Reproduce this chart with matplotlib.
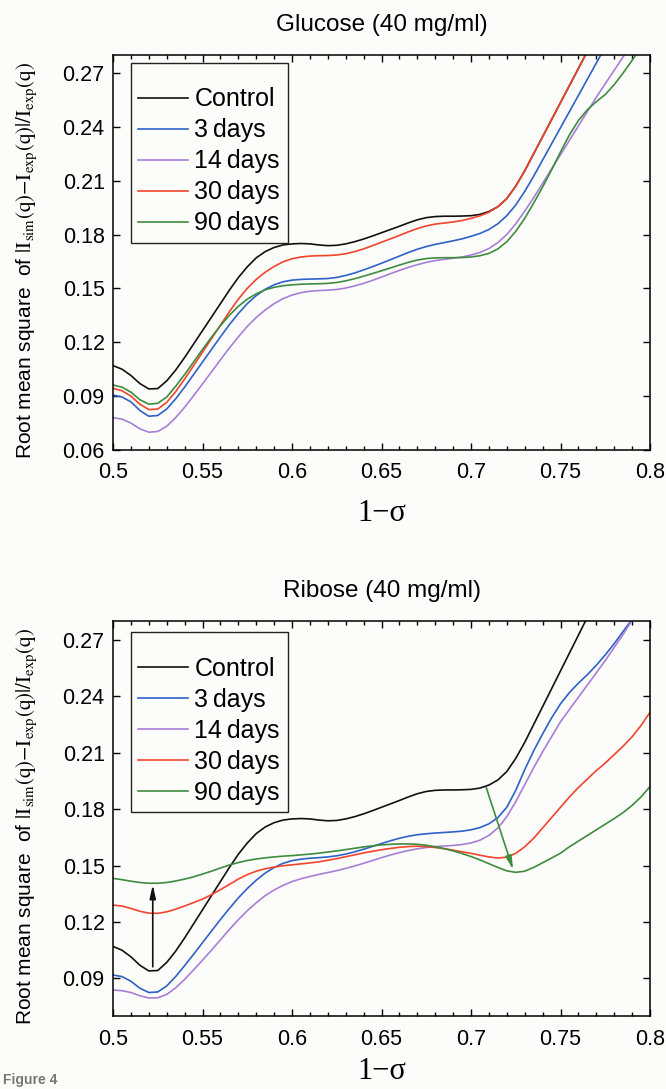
import matplotlib
matplotlib.use("Agg")
import matplotlib.pyplot as plt
import numpy as np
from matplotlib.ticker import FuncFormatter, MultipleLocator

# 1 - sigma sample positions (0.005 step)
one_minus_sigma = np.linspace(0.5, 0.8, 61)

# shared control curve (same in both panels)
control = [
    0.1070, 0.1050, 0.1015, 0.0970, 0.0940, 0.0942, 0.0985, 0.1045, 0.1115, 0.1190,
    0.1265, 0.1340, 0.1415, 0.1490, 0.1560, 0.1620, 0.1670, 0.1705, 0.1728, 0.1742,
    0.1748, 0.1750, 0.1748, 0.1742, 0.1738, 0.1740, 0.1748, 0.1760, 0.1775, 0.1792,
    0.1810, 0.1828, 0.1846, 0.1865, 0.1882, 0.1894, 0.1900, 0.1902, 0.1902, 0.1903,
    0.1905, 0.1912, 0.1928, 0.1955, 0.2000, 0.2070, 0.2155, 0.2250, 0.2345, 0.2440,
    0.2535, 0.2630, 0.2725, 0.2820, 0.2915, 0.3010, 0.3105, 0.3200, 0.3295, 0.3390,
    0.3485,
]

# Glucose (40 mg/ml)
glu_3d = [
    0.0906, 0.0895, 0.0868, 0.0820, 0.0788, 0.0792, 0.0828, 0.0885, 0.0950, 0.1020,
    0.1090, 0.1160, 0.1230, 0.1298, 0.1360, 0.1415, 0.1460, 0.1495, 0.1520, 0.1537,
    0.1546, 0.1550, 0.1552, 0.1553, 0.1555, 0.1561, 0.1572, 0.1586, 0.1603, 0.1621,
    0.1640, 0.1660, 0.1680, 0.1700, 0.1718, 0.1733, 0.1745, 0.1755, 0.1765, 0.1776,
    0.1790, 0.1806, 0.1828, 0.1860, 0.1905, 0.1965, 0.2040, 0.2125, 0.2215, 0.2305,
    0.2395, 0.2485, 0.2575, 0.2665, 0.2755, 0.2845, 0.2935, 0.3025, 0.3115, 0.3205,
    0.3295,
]
glu_14d = [
    0.0780, 0.0772, 0.0750, 0.0718, 0.0699, 0.0703, 0.0732, 0.0780, 0.0838, 0.0902,
    0.0968, 0.1035, 0.1102, 0.1168, 0.1230, 0.1288, 0.1338, 0.1380, 0.1415, 0.1443,
    0.1463, 0.1476, 0.1484, 0.1488, 0.1490, 0.1494, 0.1502, 0.1514, 0.1528, 0.1545,
    0.1563, 0.1582, 0.1600, 0.1617, 0.1632, 0.1645, 0.1655, 0.1662, 0.1668, 0.1675,
    0.1686, 0.1700, 0.1722, 0.1755, 0.1800, 0.1860, 0.1930, 0.2005, 0.2085, 0.2165,
    0.2245, 0.2325, 0.2405, 0.2485, 0.2565, 0.2640, 0.2715, 0.2790, 0.2865, 0.2940,
    0.3015,
]
glu_30d = [
    0.0943, 0.0930, 0.0900, 0.0855, 0.0825, 0.0828, 0.0865, 0.0925, 0.0995, 0.1070,
    0.1145, 0.1220, 0.1295, 0.1370, 0.1440, 0.1500, 0.1550, 0.1590, 0.1622, 0.1648,
    0.1665, 0.1675, 0.1680, 0.1682, 0.1683, 0.1686, 0.1693, 0.1705, 0.1720, 0.1738,
    0.1757, 0.1776, 0.1795, 0.1815, 0.1833, 0.1848, 0.1858, 0.1864, 0.1870, 0.1878,
    0.1890, 0.1904, 0.1924, 0.1955, 0.2000, 0.2070, 0.2155, 0.2250, 0.2345, 0.2440,
    0.2535, 0.2630, 0.2725, 0.2820, 0.2915, 0.3010, 0.3105, 0.3200, 0.3295, 0.3390,
    0.3485,
]
glu_90d = [
    0.0962, 0.0950, 0.0922, 0.0880, 0.0855, 0.0860, 0.0895, 0.0955, 0.1020, 0.1090,
    0.1160, 0.1228, 0.1292, 0.1350, 0.1400, 0.1440, 0.1470, 0.1492, 0.1506, 0.1515,
    0.1520, 0.1523, 0.1525, 0.1526, 0.1528, 0.1533, 0.1542, 0.1554, 0.1568, 0.1583,
    0.1598, 0.1614, 0.1630, 0.1645, 0.1658, 0.1666, 0.1670, 0.1671, 0.1671, 0.1672,
    0.1675, 0.1682, 0.1695, 0.1720, 0.1760, 0.1818, 0.1890, 0.1975, 0.2065, 0.2160,
    0.2260, 0.2355, 0.2435, 0.2495, 0.2540, 0.2580, 0.2635, 0.2700, 0.2770, 0.2845,
    0.2925,
]

# Ribose (40 mg/ml)
rib_3d = [
    0.0918, 0.0910, 0.0885, 0.0848, 0.0825, 0.0828, 0.0860, 0.0910, 0.0968, 0.1028,
    0.1090, 0.1152, 0.1213, 0.1272, 0.1328, 0.1378, 0.1422, 0.1460, 0.1490, 0.1512,
    0.1526, 0.1534, 0.1539, 0.1542, 0.1546, 0.1552, 0.1561, 0.1573, 0.1587, 0.1602,
    0.1617, 0.1632, 0.1645, 0.1656, 0.1664, 0.1669, 0.1673, 0.1676, 0.1679, 0.1683,
    0.1690, 0.1702, 0.1722, 0.1755, 0.1810, 0.1900, 0.2010, 0.2110, 0.2200, 0.2285,
    0.2360, 0.2420, 0.2470, 0.2515, 0.2565, 0.2620, 0.2680, 0.2745, 0.2810, 0.2880,
    0.2950,
]
rib_14d = [
    0.0838, 0.0835, 0.0825, 0.0808, 0.0796, 0.0797, 0.0815, 0.0850, 0.0895, 0.0945,
    0.0997, 0.1050, 0.1105, 0.1160, 0.1212, 0.1260, 0.1302, 0.1340, 0.1370, 0.1395,
    0.1415, 0.1430, 0.1442, 0.1453, 0.1463, 0.1473, 0.1485, 0.1498, 0.1512, 0.1527,
    0.1542, 0.1556, 0.1569, 0.1580, 0.1589, 0.1596, 0.1601, 0.1604, 0.1607, 0.1612,
    0.1620, 0.1635, 0.1660, 0.1700, 0.1760, 0.1840, 0.1930, 0.2020, 0.2105, 0.2185,
    0.2265, 0.2330, 0.2395, 0.2460, 0.2525, 0.2590, 0.2660, 0.2730, 0.2805, 0.2880,
    0.2955,
]
rib_30d = [
    0.1290, 0.1285, 0.1272, 0.1257, 0.1247, 0.1246, 0.1254, 0.1268, 0.1285, 0.1303,
    0.1322, 0.1345, 0.1372, 0.1400, 0.1428, 0.1452, 0.1470, 0.1483, 0.1492, 0.1499,
    0.1504, 0.1509, 0.1514, 0.1520, 0.1528, 0.1537, 0.1547, 0.1557, 0.1567, 0.1576,
    0.1584, 0.1591, 0.1597, 0.1601, 0.1603, 0.1601, 0.1596, 0.1590, 0.1582, 0.1573,
    0.1565, 0.1555, 0.1546, 0.1540, 0.1545, 0.1565, 0.1600, 0.1645, 0.1700, 0.1755,
    0.1810, 0.1865, 0.1915, 0.1960, 0.2005, 0.2045, 0.2090, 0.2135, 0.2185, 0.2245,
    0.2315,
]
rib_90d = [
    0.1432, 0.1425, 0.1417, 0.1410, 0.1406, 0.1406, 0.1410, 0.1418, 0.1428, 0.1440,
    0.1455, 0.1470, 0.1487, 0.1503, 0.1516, 0.1527, 0.1535, 0.1541, 0.1546, 0.1550,
    0.1553, 0.1557, 0.1561, 0.1566, 0.1572, 0.1578, 0.1585, 0.1592, 0.1599, 0.1605,
    0.1610, 0.1613, 0.1615, 0.1615, 0.1613, 0.1608, 0.1600, 0.1590, 0.1578, 0.1564,
    0.1548, 0.1530, 0.1510, 0.1490, 0.1472, 0.1464, 0.1470, 0.1490, 0.1515, 0.1540,
    0.1566, 0.1600, 0.1630, 0.1660, 0.1690, 0.1720, 0.1750, 0.1782, 0.1820, 0.1865,
    0.1920,
]

SERIES_LABELS = ["Control", "3\u2009days", "14\u2009days", "30\u2009days", "90\u2009days"]
SERIES_COLORS = ["#111111", "#2e62c6", "#a77fd6", "#f2452c", "#3e8c3e"]

# arrows in the ribose panel: (tail, head)
RIBOSE_ARROWS = [
    ((0.5222, 0.0962), (0.5222, 0.1398), "#111111"),
    ((0.7085, 0.1915), (0.7235, 0.1478), "#3e8c3e"),
]

BG = "#fcfcfa"


def apply_style() -> None:
    plt.rcParams.update(
        {
            "font.family": ["Liberation Sans", "DejaVu Sans"],
            "mathtext.fontset": "stix",
            "axes.linewidth": 1.1,
            "xtick.direction": "in",
            "ytick.direction": "in",
            "xtick.top": True,
            "ytick.right": True,
            "xtick.major.size": 5,
            "xtick.minor.size": 3,
            "ytick.major.size": 5,
            "xtick.major.width": 1.0,
            "xtick.minor.width": 1.0,
            "ytick.major.width": 1.0,
            "xtick.labelsize": 15.5,
            "ytick.labelsize": 15.5,
        }
    )


def plot_panel(ax, curves, title, ylim, legend_top, xlabel_off) -> None:
    for values, label, color in zip(curves, SERIES_LABELS, SERIES_COLORS):
        ax.plot(one_minus_sigma, values, color=color, lw=1.2, label=label)

    ax.set_xlim(0.5, 0.8)
    ax.set_ylim(*ylim)
    ax.xaxis.set_major_locator(MultipleLocator(0.05))
    ax.xaxis.set_minor_locator(MultipleLocator(0.01))
    ax.yaxis.set_major_locator(MultipleLocator(0.03))
    ax.xaxis.set_major_formatter(FuncFormatter(lambda v, _: f"{v:g}"))
    ax.yaxis.set_major_formatter(FuncFormatter(lambda v, _: f"{v:.2f}"))
    ax.tick_params(axis="x", which="major", pad=9)
    ax.tick_params(axis="y", which="major", pad=6)
    ax.set_facecolor(BG)

    ax.text(0.5, 1.075, title, transform=ax.transAxes, ha="center", va="center", fontsize=17.5)
    ax.text(0.5, xlabel_off, "1\u2212\u03c3", transform=ax.transAxes, ha="center", va="center",
            fontsize=22, family="Liberation Serif")
    ax.set_ylabel(
        r"Root mean square  of $|\mathrm{I_{sim}(q)}"
        r"{-}\mathrm{I_{exp}(q)}|/\mathrm{I_{exp}(q)}$",
        fontsize=15,
    )
    ax.yaxis.set_label_coords(-0.138, 0.48)

    leg = ax.legend(
        loc="upper left",
        bbox_to_anchor=(0.033, legend_top),
        borderaxespad=0,
        fontsize=18,
        handlelength=2.0,
        handletextpad=0.25,
        labelspacing=0.28,
        borderpad=0.3,
        fancybox=False,
        edgecolor="#222222",
        facecolor=BG,
        framealpha=1,
        title=" ",
        title_fontsize=8,
    )
    leg.get_frame().set_linewidth(1.0)


def main() -> None:
    apply_style()
    fig = plt.figure(figsize=(6.66, 10.89), dpi=100, facecolor=BG)
    ax_top = fig.add_axes([0.1697, 0.5868, 0.8063, 0.3627])
    ax_bot = fig.add_axes([0.1697, 0.0670, 0.8063, 0.3627])

    plot_panel(ax_top, [control, glu_3d, glu_14d, glu_30d, glu_90d],
               "Glucose (40 mg/ml)", (0.06, 0.28), 0.98, -0.162)
    plot_panel(ax_bot, [control, rib_3d, rib_14d, rib_30d, rib_90d],
               "Ribose (40 mg/ml)", (0.07, 0.28), 0.972, -0.14)

    for tail, head, color in RIBOSE_ARROWS:
        ax_bot.annotate(
            "", xy=head, xytext=tail,
            arrowprops=dict(arrowstyle="-|>,head_length=0.8,head_width=0.18",
                            color=color, lw=1.2, shrinkA=0, shrinkB=0),
        )

    fig.text(0.004, 0.002, "Figure 4", ha="left", va="bottom",
             fontsize=10, color="#777777", weight="bold")

    fig.savefig("out.png", dpi=100, facecolor=BG)
    plt.close(fig)


if __name__ == "__main__":
    main()
